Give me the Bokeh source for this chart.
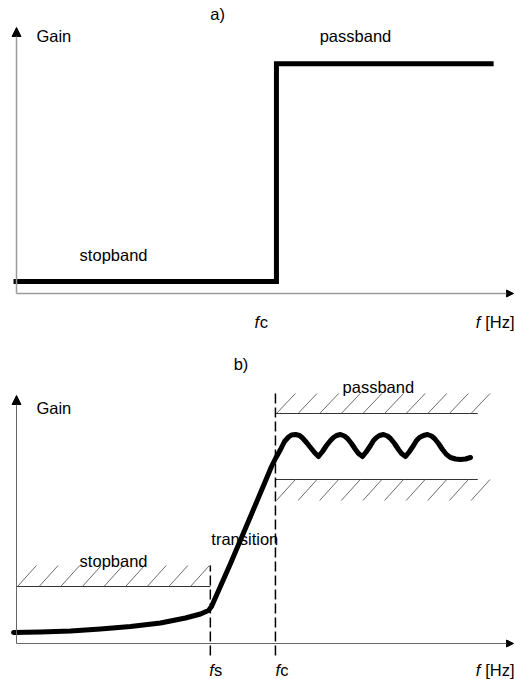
import numpy as np
from bokeh.plotting import figure
from bokeh.models import Range1d, Label, Arrow, NormalHead
from bokeh.embed import file_html
from bokeh.resources import INLINE

# ---------------- data (frequency and gain in arbitrary units) ----------------
# a) ideal high-pass response
IDEAL_F = [-0.6, 52.3, 52.3, 96.0]
IDEAL_GAIN = [4.8, 4.8, 91.9, 91.9]

# b) realistic high-pass response with passband ripple
RESP_F = [-0.60, 4.83, 10.87, 16.90, 22.94, 28.97, 34.00, 37.02, 38.63, 39.24,
          43.06, 47.08, 50.30, 51.31, 52.11,
          53.12, 53.92, 54.73, 55.33, 56.14, 56.94, 57.55, 58.35, 59.15, 59.96,
          60.76, 61.57, 62.37, 63.18, 63.78, 64.39, 65.19, 65.99, 66.60, 67.40,
          68.21, 68.81, 69.62, 70.42, 71.23, 71.83, 72.43, 73.04, 73.84, 74.65,
          75.25, 76.06, 76.86, 77.46, 78.27, 79.07, 79.88, 80.48, 81.09, 81.89,
          82.70, 83.50, 84.10, 84.91, 85.71, 86.52, 87.32, 88.33, 89.34, 90.34,
          91.35]
RESP_GAIN = [4.4, 4.6, 5.0, 5.8, 6.8, 8.2, 10.2, 11.8, 13.2, 14.8,
             32.0, 50.8, 66.0, 70.8, 74.0,
             77.6, 80.8, 82.6, 83.4, 83.6, 83.2, 82.2, 80.4, 78.4, 76.4,
             74.8, 76.8, 79.2, 81.2, 82.4, 83.2, 83.6, 83.0, 82.0, 80.0,
             77.6, 76.0, 74.8, 76.8, 79.2, 81.2, 82.4, 83.2, 83.6, 83.0,
             82.0, 80.0, 77.6, 76.0, 74.8, 76.8, 79.2, 81.2, 82.4, 83.2,
             83.6, 83.0, 82.0, 80.0, 77.6, 75.6, 74.4, 73.8, 73.6, 73.8,
             74.4]

F_S = 39.0          # stopband edge
F_C = 52.1          # passband edge
STOP_LIMIT = 22.8   # max gain allowed in stopband
PASS_HIGH = 92.0    # upper passband tolerance
PASS_LOW = 65.6     # lower passband tolerance
PASS_END = 92.8     # end of the drawn passband tolerance

FONT = "Liberation Sans"
FS = "16.5px"
TEXT_LIFT = 2.4     # raise labels so glyphs sit on the intended baseline

# one canvas: panel b uses the default y range, panel a an extra one
p = figure(width=515, height=679, x_range=Range1d(-3.22, 100.4), y_range=Range1d(-14.4, 257.2),
           output_backend="svg", toolbar_location=None,
           x_axis_location=None, y_axis_location=None, min_border=0)
p.extra_y_ranges = {"a": Range1d(-154.4, 117.2)}
p.min_border_left = p.min_border_right = p.min_border_top = p.min_border_bottom = 0
p.grid.visible = False
p.outline_line_color = None
p.background_fill_color = "white"
p.border_fill_color = "white"


def label(x, y, text, style="normal", rng="default"):
    p.add_layout(Label(x=x, y=y + TEXT_LIFT, text=text, text_font=FONT, text_font_size=FS,
                       text_color="black", text_font_style=style, y_range_name=rng,
                       text_baseline="alphabetic", text_align="left"))


def axes(y_top, color, width, rng):
    # vertical gain axis
    p.add_layout(Arrow(end=NormalHead(size=9, fill_color="black", line_color="black"),
                       x_start=0, y_start=0, x_end=0, y_end=y_top, y_range_name=rng,
                       line_color=color, line_width=width))
    # horizontal frequency axis
    p.add_layout(Arrow(end=NormalHead(size=7, fill_color="black", line_color="black"),
                       x_start=0, y_start=0, x_end=100.0, y_end=0, y_range_name=rng,
                       line_color=color, line_width=width))


def hatch(f_start, f_stop, g_base, dg, df=3.82, step=4.35):
    starts = np.arange(f_start, f_stop, step)
    if dg > 0:
        y0, y1 = np.full_like(starts, g_base), np.full_like(starts, g_base + dg)
    else:
        y0, y1 = np.full_like(starts, g_base + dg), np.full_like(starts, g_base)
    p.segment(starts, y0, starts + df, y1, line_color="#5a5a5a", line_width=0.9)


# ---------------- a) ideal filter ----------------
axes(106.4, "#9a9a9a", 1.5, "a")
p.line(IDEAL_F, IDEAL_GAIN, line_color="black", line_width=5, line_join="miter", y_range_name="a")
label(39.0, 109.6, "a)", rng="a")
label(4.0, 100.6, "Gain", rng="a")
label(61.0, 100.6, "passband", rng="a")
label(12.7, 13.2, "stopband", rng="a")
label(47.9, -13.6, "f", "italic", rng="a")
label(48.95, -13.6, "c", rng="a")
label(92.4, -13.6, "f", "italic", rng="a")
label(94.3, -13.6, "[Hz]", rng="a")

# ---------------- b) real filter with tolerance bands ----------------
axes(99.2, "#666666", 1, "default")

# stopband tolerance
p.line([0, F_S], [STOP_LIMIT, STOP_LIMIT], line_color="#333333", line_width=1)
hatch(0.2, F_S - 3.0, STOP_LIMIT, 8.4)

# passband tolerance
p.line([F_C, PASS_END], [PASS_HIGH, PASS_HIGH], line_color="#333333", line_width=1)
p.line([F_C, PASS_END], [PASS_LOW, PASS_LOW], line_color="#333333", line_width=1)
hatch(F_C + 0.2, PASS_END, PASS_HIGH, 8.0)
hatch(F_C + 0.2, PASS_END, PASS_LOW, -8.4)

# edge frequency markers
p.line([F_S, F_S], [-4.8, 31.2], line_color="black", line_width=1.5, line_dash="10 4")
p.line([F_C, F_C], [-4.8, 101.2], line_color="black", line_width=1.5, line_dash="10 4")

p.line(RESP_F, RESP_GAIN, line_color="black", line_width=5, line_join="round", line_cap="round")

label(43.7, 109.6, "b)")
label(4.0, 92.0, "Gain")
label(65.6, 100.4, "passband")
label(39.2, 39.6, "transition")
label(12.7, 30.8, "stopband")
label(38.8, -12.8, "f", "italic")
label(39.75, -12.8, "s")
label(52.1, -12.8, "f", "italic")
label(53.05, -12.8, "c")
label(92.4, -12.8, "f", "italic")
label(94.3, -12.8, "[Hz]")

open("out.html", "w").write(file_html(p, INLINE))
